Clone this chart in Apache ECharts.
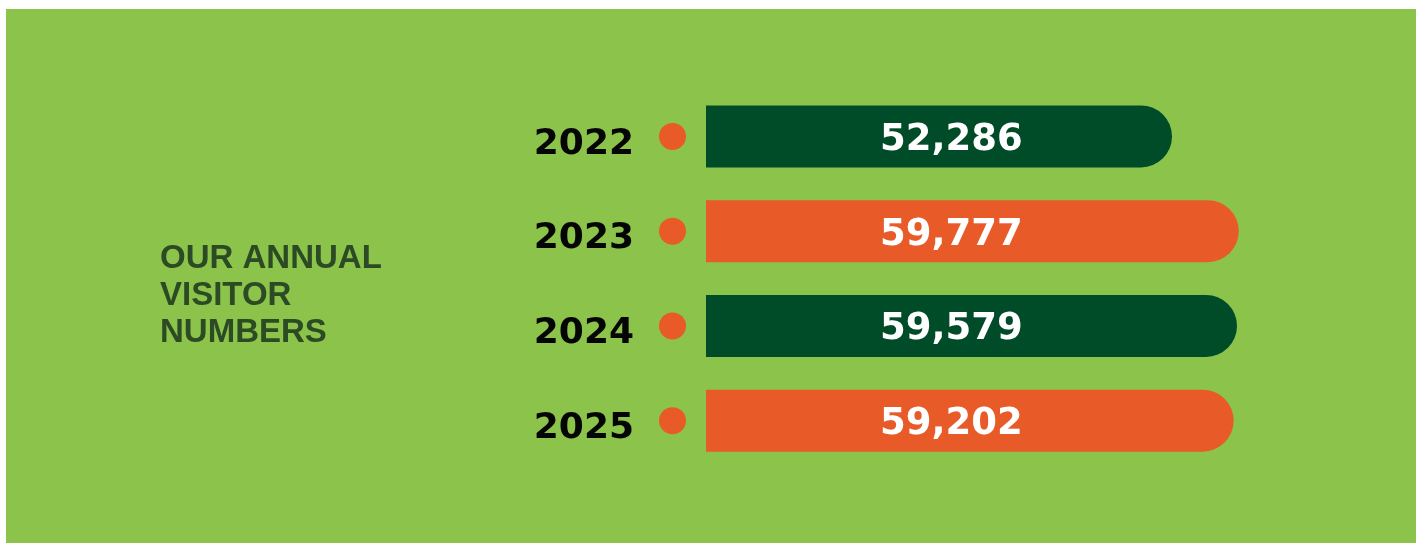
<!DOCTYPE html>
<html>
<head>
<meta charset="utf-8">
<script src="https://cdn.jsdelivr.net/npm/echarts@6/dist/echarts.min.js"></script>
<style>
html,body{margin:0;padding:0;background:#ffffff;}
#chart{width:1423px;height:543px;}
</style>
</head>
<body>
<div id="chart"></div>
<script>
const years = ['2022', '2023', '2024', '2025'];
const visitors = [52286, 59777, 59579, 59202];
const barColors = ['#004B28', '#E85A28', '#004B28', '#E85A28'];
const titleLines = ['OUR ANNUAL', 'VISITOR', 'NUMBERS'];

const chart = echarts.init(document.getElementById('chart'));
chart.setOption({
  backgroundColor: 'transparent',
  animation: false,
  graphic: [{
    type: 'rect', z: -10, silent: true,
    shape: { x: 6, y: 9, width: 1410, height: 534 },
    style: { fill: '#8CC44B' }
  }],
  title: {
    text: titleLines.join('\n'),
    left: 155, top: 235,
    textStyle: {
      fontFamily: 'Liberation Sans', fontWeight: 'bold', fontSize: 33,
      lineHeight: 37, color: '#2C4A23'
    }
  },
  grid: { left: 706, right: 4, top: 89, bottom: 75, containLabel: false },
  xAxis: { type: 'value', min: 0, max: 80000, show: false },
  yAxis: {
    type: 'category', data: years, inverse: true,
    axisLine: { show: false }, axisTick: { show: false }, splitLine: { show: false },
    axisLabel: {
      margin: 20,
      formatter: v => '{y|' + v + '}{d|}',
      rich: {
        y: { fontFamily: 'DejaVu Sans', fontWeight: 'bold', fontSize: 36, color: '#050505',
             padding: [16, 25, 0, 0] },
        d: { width: 27, height: 27, borderRadius: 13.5, backgroundColor: '#E85A28' }
      }
    }
  },
  series: [{
    type: 'bar',
    data: visitors.map((v, i) => ({ value: v, itemStyle: { color: barColors[i] } })),
    barWidth: 62,
    itemStyle: { borderRadius: [0, 31, 31, 0] },
    label: {
      show: true, position: 'insideLeft', distance: 174,
      offset: [0, 4],
      formatter: p => p.value.toLocaleString('en-US'),
      fontFamily: 'DejaVu Sans', fontWeight: 'bold', fontSize: 37, color: '#ffffff'
    }
  }]
});
</script>
</body>
</html>
